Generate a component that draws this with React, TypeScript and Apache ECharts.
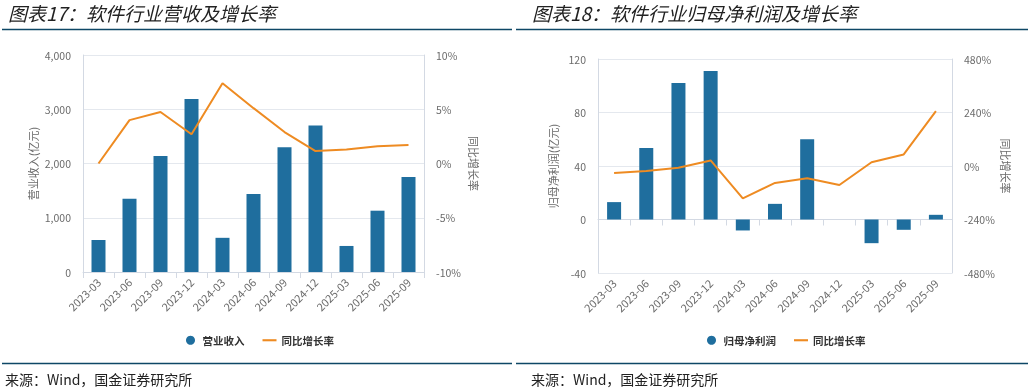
import React, { useEffect, useRef } from "react";
import * as echarts from "echarts";

const categories = [
  "2023-03", "2023-06", "2023-09", "2023-12", "2024-03", "2024-06",
  "2024-09", "2024-12", "2025-03", "2025-06", "2025-09",
];
const revenue = [590, 1350, 2140, 3190, 630, 1440, 2300, 2700, 480, 1130, 1750];
const revenueGrowth = [0.0, 4.0, 4.75, 2.7, 7.4, 5.1, 2.9, 1.15, 1.3, 1.6, 1.7];
const netProfit = [13, 53.5, 102, 111, -8.2, 11.7, 60, 0, -17.7, -7.7, 3.5];
const profitGrowth = [-31, -22, -8, 25, -145, -76, -55, -85, 17, 52, 246];

const leftTicks = { min: 0, max: 4000, interval: 1000 };
const leftRateTicks = { min: -10, max: 10, interval: 5 };
const rightTicks = { min: -40, max: 120, interval: 40 };
const rightRateTicks = { min: -480, max: 480, interval: 240 };

const BAR = "#1F6E9E";
const LINE = "#EE8B22";
const NAVY = "#0E4766";
const LABEL = "#6b6b6b";
const GRID = "#e4e8ee";
const AXIS = "#d3d9e3";
const FONT = "'Noto Sans CJK SC', 'Noto Sans', sans-serif";
const LINE_ICON = "path://M0 0 H20 V3 H0 Z";

export default function App() {
  const ref = useRef<HTMLDivElement>(null);
  useEffect(() => {
    if (!ref.current) return;
    const chart = echarts.init(ref.current, undefined, { renderer: "svg" });
    const xAxisBase = (gridIndex: number) => ({
      type: "category",
      gridIndex,
      data: categories,
      boundaryGap: true,
      axisLine: { show: true, lineStyle: { color: AXIS } },
      axisTick: { show: true, length: 6, lineStyle: { color: AXIS } },
      axisLabel: { rotate: 45, color: LABEL, fontSize: 11, fontFamily: FONT, margin: 8, interval: 0 },
    });
    const yBase = (gridIndex: number, t: any, pos: string, name: string, fmt: any, nameGap: number, nameRotate: number) => ({
      type: "value",
      gridIndex,
      position: pos,
      min: t.min,
      max: t.max,
      interval: t.interval,
      name,
      nameLocation: "middle",
      nameGap,
      nameRotate,
      nameTextStyle: { color: LABEL, fontSize: 11, fontFamily: FONT },
      axisLine: { show: true, lineStyle: { color: AXIS } },
      axisTick: { show: false },
      splitLine: { show: pos === "left", lineStyle: { color: GRID } },
      axisLabel: { color: LABEL, fontSize: 10.5, fontFamily: FONT, margin: 12, formatter: fmt },
    });
    const numFmt = (v: number) => v.toLocaleString("en-US");
    const pctFmt = (v: number) => v + "%";
    const legendText = { fontSize: 10.5, fontWeight: "bold", color: "#333", fontFamily: FONT };
    chart.setOption({
      animation: false,
      grid: [
        { left: 83, top: 55, width: 341, height: 217 },
        { left: 598, top: 59, width: 354, height: 214 },
      ],
      legend: [
        {
          left: 181, top: 330,
          data: [{ name: "营业收入", icon: "circle" }, { name: "同比增长率", icon: LINE_ICON }],
          itemWidth: 14, itemHeight: 9, itemGap: 18, symbolKeepAspect: true,
          textStyle: legendText,
        },
        {
          left: 702, top: 330,
          data: [{ name: "归母净利润", icon: "circle" }, { name: "同比增长率 ", icon: LINE_ICON }],
          itemWidth: 14, itemHeight: 9, itemGap: 18, symbolKeepAspect: true,
          textStyle: legendText,
        },
      ],
      xAxis: [xAxisBase(0), xAxisBase(1)],
      yAxis: [
        yBase(0, leftTicks, "left", "营业收入(亿元)", numFmt, 45, 90),
        yBase(0, leftRateTicks, "right", "同比增长率", pctFmt, 45, -90),
        yBase(1, rightTicks, "left", "归母净利润(亿元)", numFmt, 40, 90),
        yBase(1, rightRateTicks, "right", "同比增长率", pctFmt, 49, -90),
      ],
      series: [
        { name: "营业收入", type: "bar", xAxisIndex: 0, yAxisIndex: 0, data: revenue, barWidth: 14, itemStyle: { color: BAR } },
        { name: "同比增长率", type: "line", xAxisIndex: 0, yAxisIndex: 1, data: revenueGrowth, symbol: "none", lineStyle: { color: LINE, width: 2 }, itemStyle: { color: LINE } },
        { name: "归母净利润", type: "bar", xAxisIndex: 1, yAxisIndex: 2, data: netProfit, barWidth: 14, itemStyle: { color: BAR } },
        { name: "同比增长率 ", type: "line", xAxisIndex: 1, yAxisIndex: 3, data: profitGrowth, symbol: "none", lineStyle: { color: LINE, width: 2 }, itemStyle: { color: LINE } },
      ],
      graphic: [
        { type: "text", x: 8, y: 12, style: { text: "图表17：软件行业营收及增长率", font: `italic 19px ${FONT}`, fill: "#222", verticalAlign: "middle" } },
        { type: "text", x: 532, y: 12, style: { text: "图表18：软件行业归母净利润及增长率", font: `italic 19px ${FONT}`, fill: "#222", verticalAlign: "middle" } },
        { type: "line", shape: { x1: 2, y1: 29.5, x2: 512, y2: 29.5 }, style: { stroke: NAVY, lineWidth: 1.5 } },
        { type: "line", shape: { x1: 516, y1: 29.5, x2: 1028, y2: 29.5 }, style: { stroke: NAVY, lineWidth: 1.5 } },
        { type: "line", shape: { x1: 2, y1: 363.5, x2: 512, y2: 363.5 }, style: { stroke: NAVY, lineWidth: 1.5 } },
        { type: "line", shape: { x1: 516, y1: 363.5, x2: 1028, y2: 363.5 }, style: { stroke: NAVY, lineWidth: 1.5 } },
        { type: "text", x: 5, y: 379, style: { text: "来源：Wind，国金证券研究所", font: `14px ${FONT}`, fill: "#222", verticalAlign: "middle" } },
        { type: "text", x: 531, y: 379, style: { text: "来源：Wind，国金证券研究所", font: `14px ${FONT}`, fill: "#222", verticalAlign: "middle" } },
      ],
    });
    return () => chart.dispose();
  }, []);
  return <div ref={ref} style={{ position: "fixed", left: 0, top: 0, width: 1028, height: 392 }} />;
}
